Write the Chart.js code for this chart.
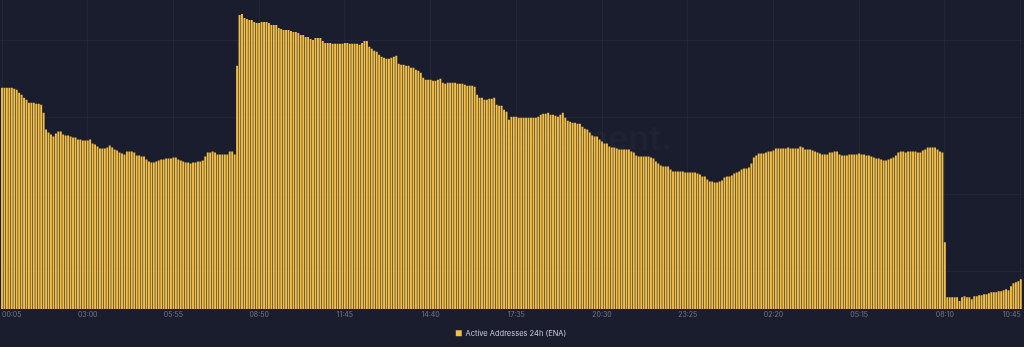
<!DOCTYPE html>
<html>
<head>
<meta charset="utf-8">
<script src="https://cdn.jsdelivr.net/npm/chart.js@4.4.1/dist/chart.umd.min.js"></script>
<style>
  html, body { margin: 0; padding: 0; background: #1a1d2d; }
  #wrap { width: 1024px; height: 347px; position: relative; }
</style>
</head>
<body>
<div id="wrap"><canvas id="c"></canvas></div>
<script>
// ---- Data (5-minute samples, 00:05 day 1 -> 10:45 day 2) ----
const seriesName = 'Active Addresses 24h (ENA)';
const startMinute = 5;        // 00:05
const stepMinutes = 5;

const activeAddresses = [
  4920,4920,4920,4920,4920,4910,4900,4870,4850,4820,
  4800,4770,4770,4770,4760,4760,4750,4670,4500,4470,
  4450,4430,4460,4480,4480,4450,4440,4440,4430,4420,
  4420,4400,4400,4390,4390,4390,4400,4360,4350,4330,
  4310,4310,4310,4320,4340,4320,4300,4290,4270,4260,
  4250,4280,4280,4280,4270,4240,4240,4230,4230,4200,
  4180,4170,4170,4180,4190,4200,4200,4210,4210,4210,
  4220,4220,4200,4190,4180,4170,4170,4160,4170,4170,
  4180,4180,4190,4230,4270,4270,4280,4270,4250,4250,
  4250,4250,4250,4280,4280,4250,5140,5650,5660,5620,
  5610,5600,5600,5580,5570,5570,5580,5580,5580,5570,
  5550,5550,5550,5520,5510,5500,5500,5500,5490,5480,
  5480,5470,5450,5450,5430,5430,5410,5400,5420,5420,
  5420,5390,5370,5370,5370,5360,5360,5360,5360,5360,
  5370,5370,5360,5360,5360,5360,5350,5370,5390,5390,
  5330,5310,5290,5280,5250,5230,5220,5210,5210,5220,
  5230,5240,5160,5150,5150,5140,5140,5120,5120,5100,
  5090,5070,5020,5000,5000,5000,4990,4990,5000,5010,
  4970,4960,4970,4970,4970,4970,4960,4960,4960,4950,
  4940,4940,4940,4930,4850,4820,4820,4800,4800,4810,
  4810,4820,4750,4740,4740,4700,4680,4600,4630,4630,
  4630,4620,4620,4620,4620,4620,4620,4620,4620,4630,
  4650,4660,4660,4670,4650,4650,4640,4630,4650,4670,
  4620,4590,4580,4570,4570,4560,4560,4530,4510,4500,
  4470,4440,4430,4430,4400,4380,4360,4360,4330,4320,
  4320,4310,4300,4300,4300,4300,4300,4280,4270,4240,
  4230,4230,4230,4230,4230,4220,4210,4180,4160,4140,
  4130,4130,4130,4100,4080,4080,4080,4080,4080,4070,
  4070,4070,4070,4070,4060,4050,4030,4030,4000,3980,
  3980,3970,3970,3980,3990,4020,4030,4030,4040,4060,
  4070,4080,4100,4110,4110,4120,4160,4220,4240,4260,
  4260,4260,4270,4280,4280,4290,4310,4310,4310,4310,
  4310,4320,4310,4310,4310,4310,4330,4320,4300,4300,
  4300,4290,4280,4270,4260,4250,4250,4250,4270,4270,
  4280,4280,4250,4240,4240,4240,4250,4250,4250,4250,
  4260,4250,4250,4240,4240,4230,4220,4210,4210,4200,
  4190,4190,4200,4210,4220,4240,4270,4280,4280,4270,
  4280,4280,4280,4280,4270,4270,4290,4300,4320,4320,
  4320,4320,4300,4280,4270,3370,2820,2820,2820,2820,
  2820,2780,2820,2830,2820,2820,2800,2830,2830,2840,
  2840,2850,2850,2860,2870,2870,2870,2880,2880,2890,
  2900,2890,2930,2960,2970,2980,3000
];

// x tick labels shown on the axis (every 35 samples + the last one)
const tickLabels = ['00:05','03:00','05:55','08:50','11:45','14:40','17:35','20:30','23:25','02:20','05:15','08:10','10:45'];
const tickEvery = 35;

// horizontal grid values and visible value range
const gridValues = [3080, 3850, 4620, 5390];
const yMin = 2700, yMax = 5800;

// categories: time of each sample
const pad = n => String(n).padStart(2, '0');
const categories = activeAddresses.map((_, i) => {
  const m = (startMinute + i * stepMinutes) % 1440;
  return pad(Math.floor(m / 60)) + ':' + pad(m % 60);
});
const lastIndex = categories.length - 1;
const tickIndexToLabel = new Map();
tickLabels.forEach((lab, k) => {
  const idx = (k === tickLabels.length - 1) ? lastIndex : k * tickEvery;
  tickIndexToLabel.set(idx, lab);
});

const GRID = 'rgba(255,255,255,0.04)';

const watermark = {
  id: 'watermark',
  beforeDatasetsDraw(chart) {
    const ctx = chart.ctx;
    ctx.save();
    ctx.font = '600 34px Inter, "Noto Sans", sans-serif';
    ctx.fillStyle = 'rgba(255,255,255,0.022)';
    ctx.textAlign = 'right';
    ctx.textBaseline = 'alphabetic';
    ctx.fillText('santiment.', 672, 150);
    ctx.restore();
  }
};

Chart.defaults.font.family = 'Inter, "Noto Sans", "DejaVu Sans", sans-serif';

new Chart(document.getElementById('c'), {
  type: 'bar',
  data: {
    labels: categories,
    datasets: [{
      label: seriesName,
      data: activeAddresses,
      backgroundColor: '#F2BF48',
      borderWidth: 0,
      barPercentage: 0.78,
      categoryPercentage: 1.0
    }]
  },
  options: {
    responsive: true,
    maintainAspectRatio: false,
    animation: false,
    layout: { padding: { left: 0, right: 2, top: 0, bottom: 0 } },
    scales: {
      x: {
        grid: {
          offset: false,
          drawTicks: false,
          color: ctx => tickIndexToLabel.has(ctx.index) ? GRID : 'rgba(0,0,0,0)'
        },
        border: { display: false },
        ticks: {
          autoSkip: false,
          maxRotation: 0,
          minRotation: 0,
          align: 'inner',
          padding: 2,
          color: '#757a8e',
          font: { size: 7 },
          callback: (v, i) => tickIndexToLabel.get(i) || ''
        }
      },
      y: {
        min: yMin,
        max: yMax,
        afterBuildTicks: s => { s.ticks = gridValues.map(v => ({ value: v })); },
        ticks: { display: false },
        grid: { drawTicks: false, color: GRID },
        border: { display: false }
      }
    },
    plugins: {
      legend: {
        position: 'bottom',
        labels: {
          boxWidth: 6,
          boxHeight: 6,
          padding: 8,
          color: '#c9ccd6',
          font: { size: 7.5 }
        }
      },
      tooltip: { enabled: false }
    }
  },
  plugins: [watermark]
});
</script>
</body>
</html>
